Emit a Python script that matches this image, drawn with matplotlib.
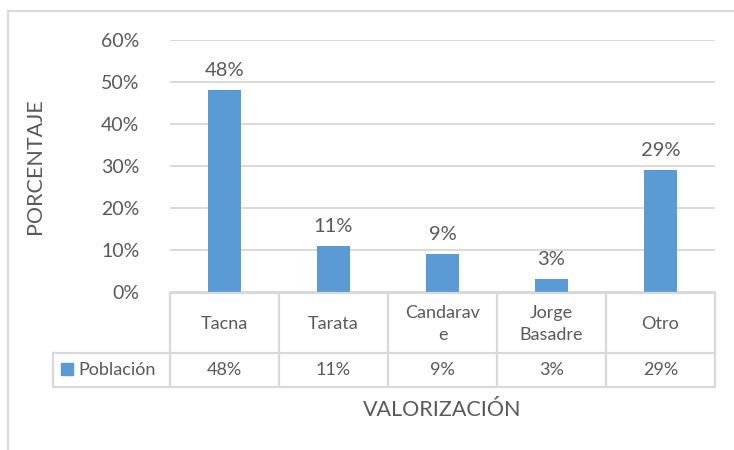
import matplotlib
matplotlib.use("Agg")
import matplotlib.pyplot as plt
from matplotlib.patches import Rectangle
from matplotlib.lines import Line2D

categories = ["Tacna", "Tarata", "Candarav\ne", "Jorge\nBasadre", "Otro"]
values = [48, 11, 9, 3, 29]
series_name = "Población"
yticks = [0, 10, 20, 30, 40, 50, 60]

W, H = 734, 450
plt.rcParams['font.family'] = ['Lato', 'DejaVu Sans']
TXT = '#595959'
GRID = '#D9D9D9'
BAR = '#5B9BD5'

fig = plt.figure(figsize=(W/100, H/100), dpi=100)

# axes pixel box
L, R, T, B = 170, 715, 40, 292
ax = fig.add_axes([L/W, 1-B/H, (R-L)/W, (B-T)/H])
x = list(range(len(categories)))
ax.bar(x, values, width=0.31, color=BAR, zorder=3)
ax.set_xlim(-0.5, len(categories)-0.5)
ax.set_ylim(0, 60)
ax.set_yticks(yticks)
ax.set_yticklabels([f"{t}%" for t in yticks], fontsize=14, color=TXT)
ax.tick_params(axis='y', length=0, pad=22)
ax.set_xticks([])
for s in ax.spines.values():
    s.set_visible(False)
ax.grid(axis='y', color=GRID, linewidth=1.4, zorder=0)

for xi, v in zip(x, values):
    ax.annotate(f"{v}%", (xi, v), xytext=(0, 8), textcoords='offset points',
                ha='center', va='bottom', fontsize=14.5, color=TXT)

# table in pixel coordinates
def fx(px):
    return px / W
def fy(py):
    return 1 - py / H

col_w = (R - L) / len(categories)
t_top, t_mid, t_bot = 293, 353, 387
leg_l = 53
lc = GRID
lw = 1.6
fig.add_artist(Line2D([fx(L), fx(R)], [fy(t_top)]*2, color=lc, lw=lw))
fig.add_artist(Line2D([fx(leg_l), fx(R)], [fy(t_mid)]*2, color=lc, lw=lw))
fig.add_artist(Line2D([fx(leg_l), fx(R)], [fy(t_bot)]*2, color=lc, lw=lw))
for i in range(len(categories)+1):
    xp = L + i*col_w
    fig.add_artist(Line2D([fx(xp)]*2, [fy(t_top), fy(t_bot)], color=lc, lw=lw))
fig.add_artist(Line2D([fx(leg_l)]*2, [fy(t_mid), fy(t_bot)], color=lc, lw=lw))

for i, (c, v) in enumerate(zip(categories, values)):
    cx = L + (i+0.5)*col_w
    fig.text(fx(cx), fy((t_top+t_mid)/2 + 1), c, ha='center', va='center',
             fontsize=13, color=TXT, linespacing=1.45)
    fig.text(fx(cx), fy((t_mid+t_bot)/2), f"{v}%", ha='center', va='center',
             fontsize=13, color=TXT)

# legend key
fig.add_artist(Rectangle((fx(61), fy(375)), 12/W, 12/H, color=BAR,
                         transform=fig.transFigure))
fig.text(fx(78), fy((t_mid+t_bot)/2), series_name, ha='left', va='center',
         fontsize=13, color=TXT)

# axis titles
fig.text(fx(35), fy(166), "PORCENTAJE", rotation=90, ha='center', va='center',
         fontsize=15.5, color=TXT)
fig.text(fx(442), fy(410), "VALORIZACIÓN", ha='center', va='center',
         fontsize=15.5, color=TXT)

# chart border (partly cropped)
fig.add_artist(Line2D([fx(8), fx(W+5)], [fy(11)]*2, color=GRID, lw=1.6))
fig.add_artist(Line2D([fx(8)]*2, [fy(11), fy(H+5)], color=GRID, lw=1.6))

fig.savefig("out.png", dpi=100)
